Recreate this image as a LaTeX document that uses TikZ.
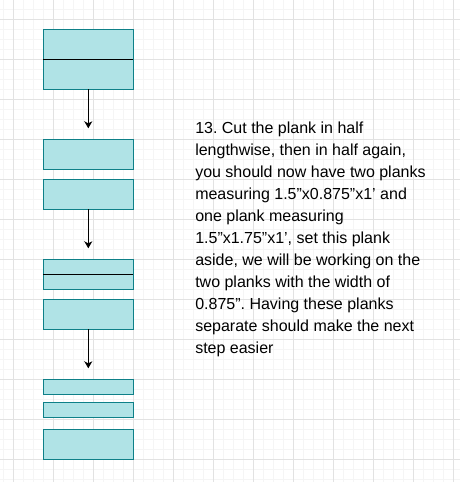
\documentclass[tikz,border=0pt]{standalone}
\usepackage{fontspec}
\setmainfont{Liberation Sans}
\usetikzlibrary{arrows.meta}
\definecolor{plankFill}{HTML}{B0E3E6}
\definecolor{plankEdge}{HTML}{0E8088}
\definecolor{gridMinor}{HTML}{F5F5F5}
\definecolor{gridMajor}{HTML}{E2E2E2}
\tikzset{
  plank/.style={draw=plankEdge, fill=plankFill, line width=0.75pt, minimum width=67.5pt, inner sep=0pt, outer sep=0pt},
  plank tall/.style={plank, minimum height=45pt},
  plank mid/.style={plank, minimum height=22.5pt},
  plank thin/.style={plank, minimum height=11.25pt},
  cut line/.style={draw=black, line width=0.75pt},
  step arrow/.style={draw=black, line width=0.75pt, -{Stealth[length=5.25pt, width=6pt, inset=1.5pt]}, shorten >=8.25pt},
  step text/.style={font=\fontsize{12pt}{16.5pt}\selectfont, align=left, inner sep=0pt, anchor=north west},
}
\frenchspacing

\begin{document}
\begin{tikzpicture}[x=0.75pt,y=-0.75pt]
  \useasboundingbox (0,0) rectangle (460,482);
  % background grid
  \foreach \x in {3.3,13.3,...,460} {
    \draw[gridMinor, line width=0.75pt] (\x,0) -- (\x,482);
  }
  \foreach \y in {9.3,19.3,...,482} {
    \draw[gridMinor, line width=0.75pt] (0,\y) -- (460,\y);
  }
  \foreach \x in {13.3,53.3,...,460} {
    \draw[gridMajor, line width=0.75pt] (\x,0) -- (\x,482);
  }
  \foreach \y in {19.3,59.3,...,482} {
    \draw[gridMajor, line width=0.75pt] (0,\y) -- (460,\y);
  }

  % planks, top to bottom
  \node[plank tall] (whole) at (88.3,59.3) {};
  \draw[cut line] (whole.west) -- (whole.east);
  \node[plank mid] (halfA) at (88.3,154.3) {};
  \node[plank mid] (halfB) at (88.3,194.3) {};
  \node[plank mid] (quarterA) at (88.3,274.3) {};
  \draw[cut line] (quarterA.west) -- (quarterA.east);
  \node[plank mid] (wideB) at (88.3,314.3) {};
  \node[plank thin] (stripA) at (88.3,386.8) {};
  \node[plank thin] (stripB) at (88.3,409.8) {};
  \node[plank mid] (wideC) at (88.3,444.3) {};

  \draw[step arrow] (whole.south) -- (halfA.north);
  \draw[step arrow] (halfB.south) -- (quarterA.north);
  \draw[step arrow] (wideB.south) -- (stripA.north);

  \node[step text] (instr) at (195,121.5) {13. Cut the plank in half\\
    lengthwise, then in half again,\\
    you should now have two planks\\
    measuring 1.5”x0.875”x1’ and\\
    one plank measuring\\
    1.5”x1.75”x1’, set this plank\\
    aside, we will be working on the\\
    two planks with the width of\\
    0.875”. Having these planks\\
    separate should make the next\\
    step easier};
\end{tikzpicture}
\end{document}
